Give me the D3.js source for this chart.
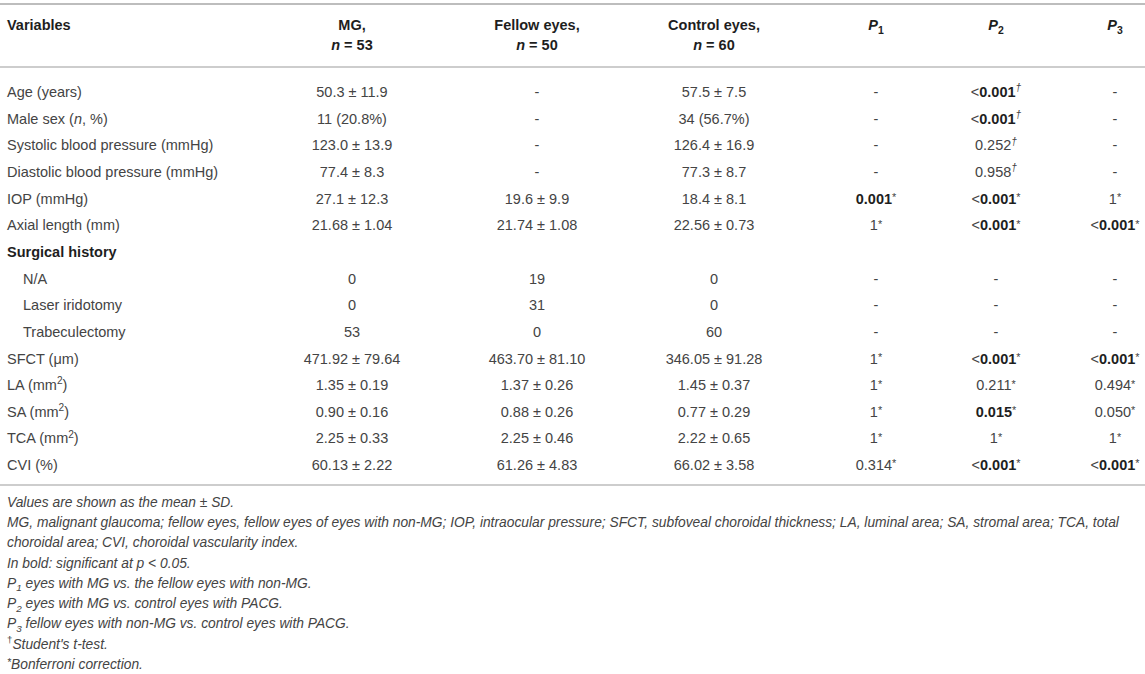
<!DOCTYPE html>
<html>
<head>
<meta charset="utf-8">
<script src="https://cdn.jsdelivr.net/npm/d3@7"></script>
<style>
  body { margin: 0; background: #fff; }
  svg { display: block; font-family: "Liberation Sans", Arial, Helvetica, sans-serif; }
</style>
</head>
<body>
<div id="table"></div>
<script>
// markup: [i:..] italic, [b:..] bold, [sup:..] superscript, [supi:..] italic superscript,
// [sub:..] subscript, [star:..] small raised asterisk
const headerLine1 = ["Variables", "MG,", "Fellow eyes,", "Control eyes,", "[i:P][sub:1]", "[i:P][sub:2]", "[i:P][sub:3]"];
const headerLine2 = ["", "[i:n] = 53", "[i:n] = 50", "[i:n] = 60", "", "", ""];

const rowLabels = [
  "Age (years)", "Male sex ([i:n], %)", "Systolic blood pressure (mmHg)", "Diastolic blood pressure (mmHg)",
  "IOP (mmHg)", "Axial length (mm)", "Surgical history", "N/A", "Laser iridotomy", "Trabeculectomy",
  "SFCT (μm)", "LA (mm[sup:2])", "SA (mm[sup:2])", "TCA (mm[sup:2])", "CVI (%)"
];
const boldRows = ["Surgical history"];
const indentRows = ["N/A", "Laser iridotomy", "Trabeculectomy"];

const mgValues = ["50.3 ± 11.9", "11 (20.8%)", "123.0 ± 13.9", "77.4 ± 8.3", "27.1 ± 12.3", "21.68 ± 1.04", "",
  "0", "0", "53", "471.92 ± 79.64", "1.35 ± 0.19", "0.90 ± 0.16", "2.25 ± 0.33", "60.13 ± 2.22"];
const fellowValues = ["-", "-", "-", "-", "19.6 ± 9.9", "21.74 ± 1.08", "",
  "19", "31", "0", "463.70 ± 81.10", "1.37 ± 0.26", "0.88 ± 0.26", "2.25 ± 0.46", "61.26 ± 4.83"];
const controlValues = ["57.5 ± 7.5", "34 (56.7%)", "126.4 ± 16.9", "77.3 ± 8.7", "18.4 ± 8.1", "22.56 ± 0.73", "",
  "0", "0", "60", "346.05 ± 91.28", "1.45 ± 0.37", "0.77 ± 0.29", "2.22 ± 0.65", "66.02 ± 3.58"];
const p1Values = ["-", "-", "-", "-", "[b:0.001][star:*]", "1[star:*]", "",
  "-", "-", "-", "1[star:*]", "1[star:*]", "1[star:*]", "1[star:*]", "0.314[star:*]"];
const p2Values = ["<[b:0.001][supi:†]", "<[b:0.001][supi:†]", "0.252[supi:†]", "0.958[supi:†]", "<[b:0.001][star:*]", "<[b:0.001][star:*]", "",
  "-", "-", "-", "<[b:0.001][star:*]", "0.211[star:*]", "[b:0.015][star:*]", "1[star:*]", "<[b:0.001][star:*]"];
const p3Values = ["-", "-", "-", "-", "1[star:*]", "<[b:0.001][star:*]", "",
  "-", "-", "-", "<[b:0.001][star:*]", "0.494[star:*]", "0.050[star:*]", "1[star:*]", "<[b:0.001][star:*]"];

const footnotes = [
  "Values are shown as the mean ± SD.",
  "MG, malignant glaucoma; fellow eyes, fellow eyes of eyes with non-MG; IOP, intraocular pressure; SFCT, subfoveal choroidal thickness; LA, luminal area; SA, stromal area; TCA, total",
  "choroidal area; CVI, choroidal vascularity index.",
  "In bold: significant at p < 0.05.",
  "P[sub:1] eyes with MG vs. the fellow eyes with non-MG.",
  "P[sub:2] eyes with MG vs. control eyes with PACG.",
  "P[sub:3] fellow eyes with non-MG vs. control eyes with PACG.",
  "[supn:†]Student's t-test.",
  "[star:*]Bonferroni correction."
];

const width = 1145;
const height = 674;
const fontSize = 14.5;
const noteSize = 13.8;
const textColor = "#444";
const boldColor = "#1e1e1e";
const ruleColor = "#bdbdbd";

const columnX = [7, 352, 537, 714, 876, 996, 1115];

const svg = d3.select("#table").append("svg")
  .attr("width", width)
  .attr("height", height);

const y = d3.scalePoint()
  .domain(d3.range(rowLabels.length))
  .range([92, 465]);

const yNote = d3.scalePoint()
  .domain(d3.range(footnotes.length))
  .range([502, 664]);

function richText(sel, str, size) {
  const re = /\[(i|b|sup|supi|supn|sub|star):([^\]]*)\]/g;
  let last = 0, m, shift = 0;
  const add = (txt, kind) => {
    const t = sel.append("tspan").text(txt);
    let target = 0;
    if (kind === "sup" || kind === "supi" || kind === "supn") { t.attr("font-size", size * 0.7); target = -size * 0.4; }
    if (kind === "sub") { t.attr("font-size", size * 0.72); target = size * 0.25; }
    if (kind === "star") { t.attr("font-size", size * 0.75).attr("font-weight", "normal").attr("fill", textColor); target = -size * 0.18; }
    if (kind === "i" || kind === "supi") t.attr("font-style", "italic");
    if (kind === "supn") t.attr("font-style", "normal");
    if (kind === "b") t.attr("font-weight", "bold").attr("fill", boldColor);
    if (target !== shift) { t.attr("dy", target - shift); shift = target; }
  };
  while ((m = re.exec(str))) {
    if (m.index > last) add(str.slice(last, m.index), "");
    add(m[2], m[1]);
    last = re.lastIndex;
  }
  if (last < str.length) add(str.slice(last), "");
}

// rules
svg.selectAll("line.rule")
  .data([{ y: 4, w: 2 }, { y: 67, w: 1.5 }, { y: 485, w: 1.5 }])
  .join("line")
  .attr("class", "rule")
  .attr("x1", 0).attr("x2", width)
  .attr("y1", d => d.y).attr("y2", d => d.y)
  .attr("stroke", ruleColor)
  .attr("stroke-width", d => d.w);

// header
const header = svg.append("g")
  .attr("font-size", fontSize)
  .attr("font-weight", "bold")
  .attr("fill", boldColor);

[headerLine1, headerLine2].forEach((line, li) => {
  line.forEach((txt, ci) => {
    if (!txt) return;
    const t = header.append("text")
      .attr("x", columnX[ci])
      .attr("y", 25 + li * 20 + fontSize * 0.35)
      .attr("text-anchor", ci === 0 ? "start" : "middle");
    richText(t, txt, fontSize);
  });
});

// body
const columns = [rowLabels, mgValues, fellowValues, controlValues, p1Values, p2Values, p3Values];
const body = svg.append("g")
  .attr("font-size", fontSize)
  .attr("fill", textColor);

rowLabels.forEach((label, ri) => {
  columns.forEach((col, ci) => {
    const txt = col[ri];
    if (!txt) return;
    const t = body.append("text")
      .attr("x", ci === 0 ? (indentRows.includes(label) ? 23 : columnX[0]) : columnX[ci])
      .attr("y", y(ri) + fontSize * 0.35)
      .attr("text-anchor", ci === 0 ? "start" : "middle");
    if (ci === 0 && boldRows.includes(label)) t.attr("font-weight", "bold").attr("fill", boldColor);
    richText(t, txt, fontSize);
  });
});

// footnotes
const notes = svg.append("g")
  .attr("font-size", noteSize)
  .attr("font-style", "italic")
  .attr("fill", textColor);

notes.selectAll("text")
  .data(footnotes)
  .join("text")
  .attr("x", columnX[0])
  .attr("y", (d, i) => yNote(i) + noteSize * 0.35)
  .each(function (d) { richText(d3.select(this), d, noteSize); });
</script>
</body>
</html>
